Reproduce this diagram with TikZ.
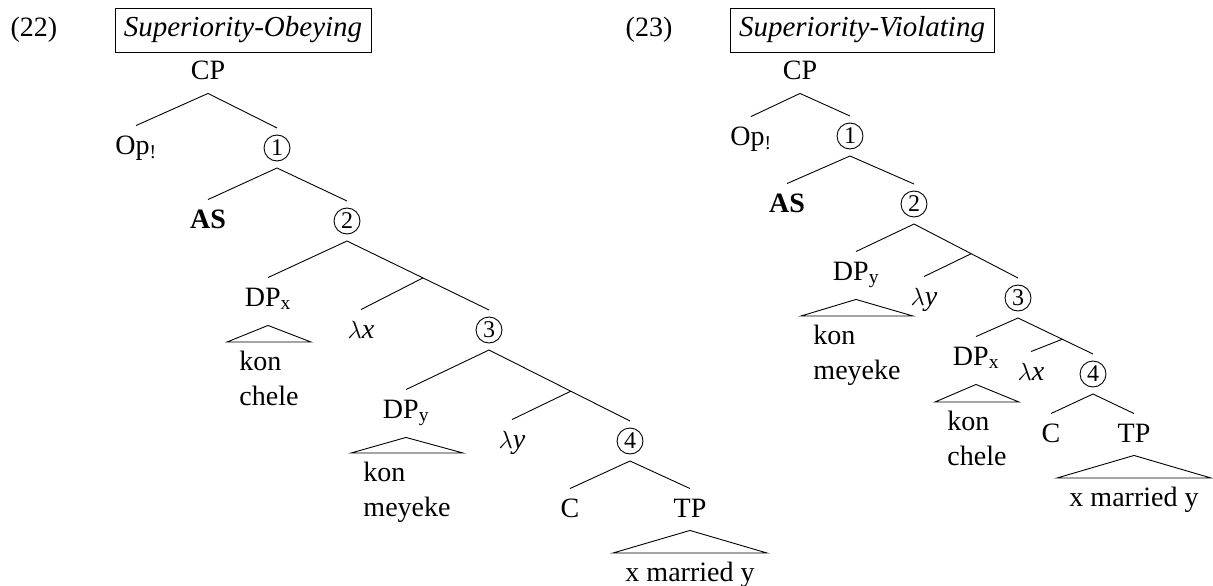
\documentclass[tikz,border=0pt]{standalone}
\usepackage{fontspec}
\setmainfont{Liberation Serif}
\usepackage{tikz}
\usetikzlibrary{calc}
\tikzset{
every node/.style={font=\fontsize{28}{35}\selectfont},
lab/.style={anchor=base, text height=20pt, text depth=5pt, inner xsep=2pt, inner ysep=8pt},
dp/.style={lab, text depth=11pt},
circnum/.style={circle, draw, minimum size=26pt, inner sep=0pt, outer sep=7pt, font=\fontsize{24}{24}\selectfont},
yield/.style={anchor=north, align=left, inner xsep=12pt, inner ysep=9pt},
exnum/.style={anchor=base, inner sep=0pt},
title/.style={draw, inner sep=0pt, minimum height=44pt, font=\fontsize{29}{35}\selectfont}
}

\begin{document}
\begin{tikzpicture}[x=1pt, y=-1pt, line width=0.9pt]
\useasboundingbox (0,0) rectangle (1213,586);

\node[exnum] (exL) at (34,37) {(22)};
\node[title, minimum width=256pt] (hdL) at (243,30) {\textit{Superiority-Obeying}};
\node[lab] (cpL) at (208,80) {CP};
\node[lab] (opL) at (136,154) {Op\textsubscript{!}};
\node[circnum] (oneL) at (277,148) {1};
\node[lab] (asL) at (208,228) {\textbf{AS}};
\node[circnum] (twoL) at (347,221) {2};
\node[dp] (dpxL) at (268,306) {DP\textsubscript{x}};
\node[yield] (knxL) at (269,342) {kon\\chele};
\node[lab] (lxL) at (361,338) {$\lambda$\textit{x}};
\node[circnum] (threeL) at (489,330) {3};
\node[dp] (dpyL) at (406,418) {DP\textsubscript{y}};
\node[yield] (knyL) at (407,453) {kon\\meyeke};
\node[lab] (lyL) at (512,448) {$\lambda$\textit{y}};
\node[circnum] (fourL) at (630,441) {4};
\node[lab] (cL) at (570,517) {C};
\node[lab] (tpL) at (690,517) {TP};
\node[yield] (xmyL) at (690,553) {x married y};
\coordinate (brL1) at ($(twoL.south)!.535!(threeL.north)$);
\coordinate (brL2) at ($(threeL.south)!.58!(fourL.north)$);

\draw (cpL.south) -- (opL.north);
\draw (cpL.south) -- (oneL.north);
\draw (oneL.south) -- (asL.north);
\draw (oneL.south) -- (twoL.north);
\draw (twoL.south) -- (dpxL.north);
\draw (twoL.south) -- (brL1) -- (threeL.north);
\draw (brL1) -- (lxL.north);
\draw (dpxL.south) -- (knxL.north west) -- (knxL.north east) -- cycle;
\draw (threeL.south) -- (dpyL.north);
\draw (threeL.south) -- (brL2) -- (fourL.north);
\draw (brL2) -- (lyL.north);
\draw (dpyL.south) -- (knyL.north west) -- (knyL.north east) -- cycle;
\draw (fourL.south) -- (cL.north);
\draw (fourL.south) -- (tpL.north);
\draw (tpL.south) -- (xmyL.north west) -- (xmyL.north east) -- cycle;

\node[exnum] (exR) at (649,37) {(23)};
\node[title, minimum width=264pt] (hdR) at (862,30) {\textit{Superiority-Violating}};
\node[lab] (cpR) at (800,80) {CP};
\node[lab] (opR) at (751,145) {Op\textsubscript{!}};
\node[circnum] (oneR) at (850,136) {1};
\node[lab] (asR) at (787,212) {\textbf{AS}};
\node[circnum] (twoR) at (914,204) {2};
\node[dp] (dpyR) at (856,280) {DP\textsubscript{y}};
\node[yield] (knyR) at (857,316) {kon\\meyeke};
\node[lab] (lyR) at (924,305) {$\lambda$\textit{y}};
\node[circnum] (threeR) at (1018,298) {3};
\node[dp] (dpxR) at (976,365) {DP\textsubscript{x}};
\node[yield] (knxR) at (977,402) {kon\\chele};
\node[lab] (lxR) at (1031,380) {$\lambda$\textit{x}};
\node[circnum] (fourR) at (1093,374) {4};
\node[lab] (cR) at (1051,442) {C};
\node[lab] (tpR) at (1134,442) {TP};
\node[yield] (xmyR) at (1134,478) {x married y};
\coordinate (brR1) at ($(twoR.south)!.55!(threeR.north)$);
\coordinate (brR2) at ($(threeR.south)!.59!(fourR.north)$);

\draw (cpR.south) -- (opR.north);
\draw (cpR.south) -- (oneR.north);
\draw (oneR.south) -- (asR.north);
\draw (oneR.south) -- (twoR.north);
\draw (twoR.south) -- (dpyR.north);
\draw (twoR.south) -- (brR1) -- (threeR.north);
\draw (brR1) -- (lyR.north);
\draw (dpyR.south) -- (knyR.north west) -- (knyR.north east) -- cycle;
\draw (threeR.south) -- (dpxR.north);
\draw (threeR.south) -- (brR2) -- (fourR.north);
\draw (brR2) -- (lxR.north);
\draw (dpxR.south) -- (knxR.north west) -- (knxR.north east) -- cycle;
\draw (fourR.south) -- (cR.north);
\draw (fourR.south) -- (tpR.north);
\draw (tpR.south) -- (xmyR.north west) -- (xmyR.north east) -- cycle;
\end{tikzpicture}
\end{document}
